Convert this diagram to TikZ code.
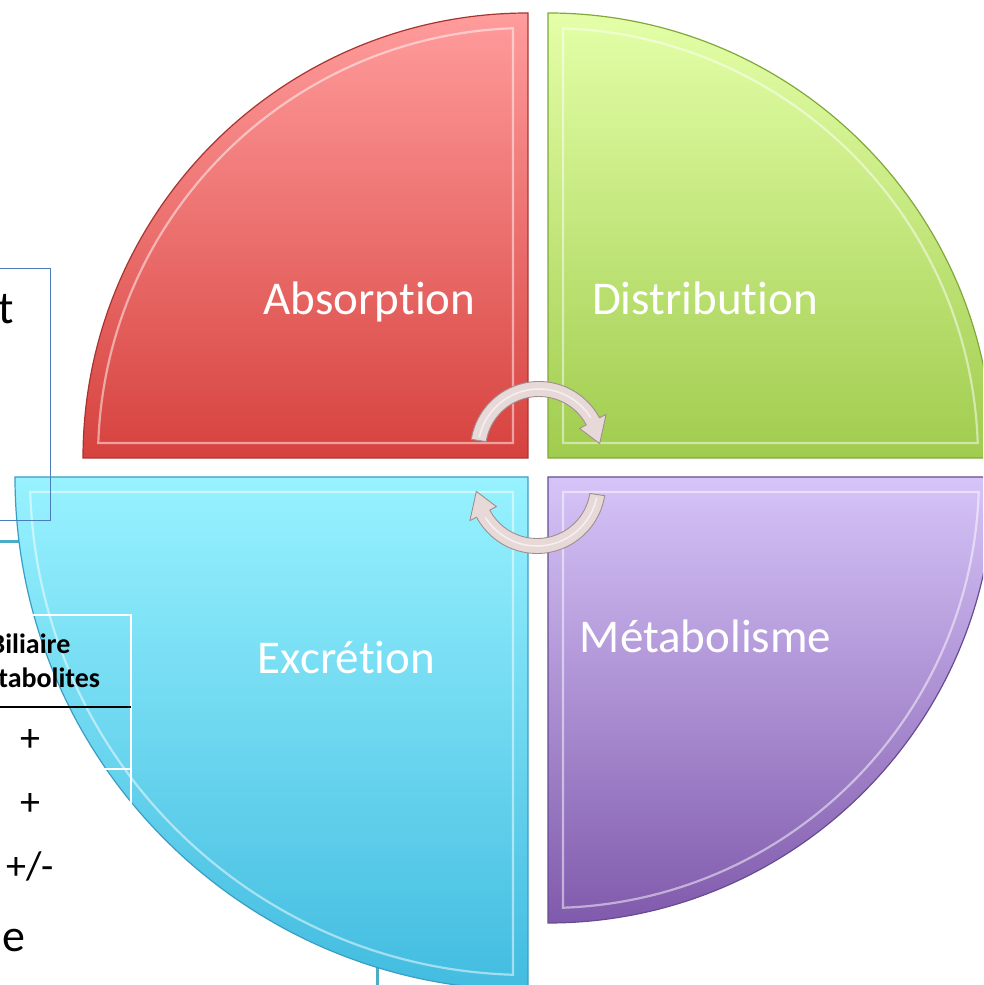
\documentclass[tikz,border=0pt]{standalone}
\usepackage{fontspec}
\setmainfont{Carlito}[Ligatures={NoCommon,TeX}]
\definecolor{redtop}{RGB}{255,156,156}
\definecolor{redbot}{RGB}{214,66,62}
\definecolor{rededge}{RGB}{168,52,48}
\definecolor{grntop}{RGB}{228,255,168}
\definecolor{grnbot}{RGB}{160,204,78}
\definecolor{grnedge}{RGB}{128,168,58}
\definecolor{purtop}{RGB}{214,196,248}
\definecolor{purbot}{RGB}{128,90,172}
\definecolor{puredge}{RGB}{104,76,146}
\definecolor{cyntop}{RGB}{152,242,255}
\definecolor{cynbot}{RGB}{66,188,224}
\definecolor{cynedge}{RGB}{58,158,196}
\definecolor{arrowfill}{RGB}{232,217,217}
\definecolor{arrowedge}{RGB}{160,142,142}
\definecolor{boxblue}{RGB}{74,126,187}
\definecolor{teal}{RGB}{75,172,198}
\newcommand\bevelquad[7]{%
  \pgfmathsetmacro\qd{15}%
  \pgfmathsetmacro\qdl{asin(\qd/(#3-\qd))}%
  \pgfmathsetmacro\qix{#1+\qd*sqrt(2)*cos(#4+45)}%
  \pgfmathsetmacro\qiy{#2+\qd*sqrt(2)*sin(#4+45)}%
  \pgfmathsetmacro\qri{#3-\qd}%
  \pgfmathsetmacro\qsa{#4+\qdl}%
  \pgfmathsetmacro\qda{90-2*\qdl}%
  \path[top color=#5,bottom color=#6,draw=#7,line width=1.2pt]
    (#1,#2) -- ([shift={(#4:#3)}]#1,#2) arc[start angle=#4,delta angle=90,radius=#3] -- cycle;
  \draw[white,opacity=0.5,line width=2.2pt]
    (\qix,\qiy) -- ([shift={(\qsa:\qri)}]#1,#2) arc[start angle=\qsa,delta angle=\qda,radius=\qri] -- cycle;
}
\tikzset{
  label/.style={text=white,font=\fontsize{47}{56}\selectfont,anchor=base},
  bigtxt/.style={font=\fontsize{46}{55}\selectfont,anchor=base east,inner sep=0pt},
  headtxt/.style={font=\fontsize{28}{34}\bfseries\selectfont,anchor=base,inner sep=0pt},
  rowtxt/.style={font=\fontsize{40}{48}\selectfont,anchor=base,inner sep=0pt},
  cyclearrow/.style={fill=arrowfill,draw=arrowedge,line width=0.9pt,line join=round},
}
\begin{document}
\begin{tikzpicture}[x=1pt,y=1pt]
\useasboundingbox (0,0) rectangle (983,985);
\clip (0,0) rectangle (983,985);
% connector lines peeking from under the cyan segment
\coordinate (tl1) at (-5,443);
\coordinate (tl2) at (40,443);
\draw[teal,line width=3pt] (tl1) -- (tl2);
\coordinate (tv1) at (377,-5);
\coordinate (tv2) at (377,60);
\draw[teal,line width=3pt] (tv1) -- (tv2);
% four segments
\bevelquad{528}{527}{445}{90}{redtop}{redbot}{rededge}
\bevelquad{548}{527}{445}{0}{grntop}{grnbot}{grnedge}
\bevelquad{548}{508}{446}{270}{purtop}{purbot}{puredge}
\bevelquad{528}{508}{513}{180}{cyntop}{cynbot}{cynedge}
% cycle arrows
\begin{scope}[shift={(539,535)}]
  \path[cyclearrow] (171:68.5) arc[start angle=171,end angle=28,radius=68.5]
    -- (28:76) -- (6:61) -- (28:46) -- (28:53.5)
    arc[start angle=28,end angle=171,radius=53.5] -- cycle;
  \draw[white,opacity=0.6,line width=1.5pt] (168:61) arc[start angle=168,end angle=32,radius=61];
\end{scope}
\begin{scope}[shift={(537,500)},rotate=180]
  \path[cyclearrow] (171:68.5) arc[start angle=171,end angle=28,radius=68.5]
    -- (28:76) -- (6:61) -- (28:46) -- (28:53.5)
    arc[start angle=28,end angle=171,radius=53.5] -- cycle;
  \draw[white,opacity=0.6,line width=1.5pt] (168:61) arc[start angle=168,end angle=32,radius=61];
\end{scope}
% labels
\node[label] (abs) at (369.5,670) {Absorption};
\node[label] (dis) at (705,670) {Distribution};
\node[label] (met) at (705.5,332) {Métabolisme};
\node[label] (exc) at (346.5,311) {Excrétion};
% left text box
\node[draw=boxblue,line width=1.3pt,minimum width=80pt,minimum height=252pt,anchor=north east,inner sep=0pt] (tbox) at (51,717) {};
\node[bigtxt] (tt) at (14,661) {t};
\node[bigtxt] (le) at (26,33) {le};
% table
\coordinate (tA) at (-5,370);
\coordinate (tB) at (131,370);
\coordinate (tC) at (131,20);
\coordinate (tD) at (-5,216);
\coordinate (tE) at (131,216);
\draw[white,line width=1.5pt] (tA) -- (tB) -- (tC);
\draw[white,line width=1.5pt] (tD) -- (tE);
\coordinate (hA) at (-5,278);
\coordinate (hB) at (131,278);
\draw[black,line width=2.5pt] (hA) -- (hB);
\node[headtxt] (h1) at (30,331) {Biliaire};
\node[headtxt] (h2) at (30,297) {Métabolites};
\node[rowtxt] (r1) at (30,233) {+};
\node[rowtxt] (r2) at (30,169) {+};
\node[rowtxt] (r3) at (30,105) {+/-};
\end{tikzpicture}
\end{document}
